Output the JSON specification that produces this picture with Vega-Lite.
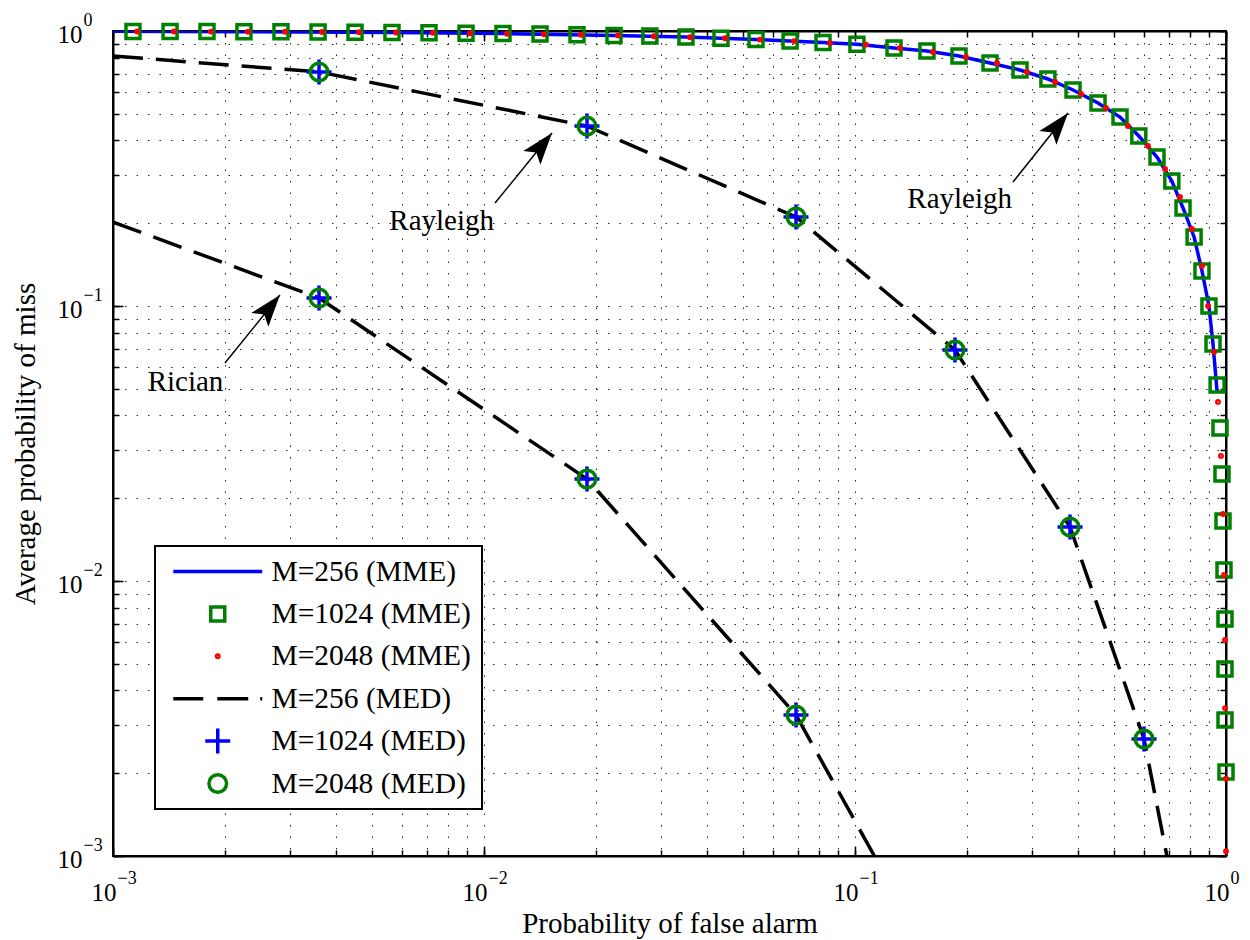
{
  "$schema": "https://vega.github.io/schema/vega-lite/v6.json",
  "width": 1113,
  "height": 825,
  "autosize": {"type": "none"},
  "padding": {"left": 113, "top": 31, "right": 24, "bottom": 84},
  "background": "white",
  "config": {
    "font": "Liberation Serif",
    "view": {"stroke": "black", "strokeWidth": 2},
    "legend": {"strokeWidth": 2}
  },
  "datasets": {
    "mme_line": [
      {"pf": 0.001, "pm": 0.998}, {"pf": 0.002254, "pm": 0.994}, {"pf": 0.005649, "pm": 0.9875},
      {"pf": 0.01125, "pm": 0.9785}, {"pf": 0.02241, "pm": 0.9638}, {"pf": 0.035, "pm": 0.9502},
      {"pf": 0.0541, "pm": 0.9313}, {"pf": 0.08199, "pm": 0.9074}, {"pf": 0.1012, "pm": 0.8946},
      {"pf": 0.1274, "pm": 0.8671}, {"pf": 0.1563, "pm": 0.8458}, {"pf": 0.1907, "pm": 0.8112},
      {"pf": 0.2312, "pm": 0.7651}, {"pf": 0.2785, "pm": 0.7212}, {"pf": 0.3311, "pm": 0.669},
      {"pf": 0.387, "pm": 0.6101}, {"pf": 0.4519, "pm": 0.5473}, {"pf": 0.518, "pm": 0.4866},
      {"pf": 0.5821, "pm": 0.4151}, {"pf": 0.6516, "pm": 0.3481}, {"pf": 0.7145, "pm": 0.2848},
      {"pf": 0.7659, "pm": 0.2272}, {"pf": 0.8204, "pm": 0.1782}, {"pf": 0.8615, "pm": 0.1341},
      {"pf": 0.8995, "pm": 0.1}, {"pf": 0.9226, "pm": 0.0727}, {"pf": 0.9463, "pm": 0.0487}
    ],
    "med_line": [
      {"curve": "Rayleigh", "pf": 0.001, "pm": 0.811},
      {"curve": "Rayleigh", "pf": 0.003592, "pm": 0.7096},
      {"curve": "Rayleigh", "pf": 0.01895, "pm": 0.451},
      {"curve": "Rayleigh", "pf": 0.06934, "pm": 0.2107},
      {"curve": "Rayleigh", "pf": 0.186, "pm": 0.06918},
      {"curve": "Rayleigh", "pf": 0.3798, "pm": 0.01572},
      {"curve": "Rayleigh", "pf": 0.6012, "pm": 0.002664},
      {"curve": "Rayleigh", "pf": 0.693, "pm": 0.001},
      {"curve": "Rician", "pf": 0.001, "pm": 0.202},
      {"curve": "Rician", "pf": 0.003592, "pm": 0.1069},
      {"curve": "Rician", "pf": 0.01895, "pm": 0.02349},
      {"curve": "Rician", "pf": 0.06934, "pm": 0.003256},
      {"curve": "Rician", "pf": 0.1128, "pm": 0.001}
    ],
    "points": [
      {"series": "M=1024 (MME)", "pf": 0.001132, "pm": 0.9958},
      {"series": "M=1024 (MME)", "pf": 0.001425, "pm": 0.9958},
      {"series": "M=1024 (MME)", "pf": 0.001792, "pm": 0.995},
      {"series": "M=1024 (MME)", "pf": 0.002254, "pm": 0.9941},
      {"series": "M=1024 (MME)", "pf": 0.002836, "pm": 0.9933},
      {"series": "M=1024 (MME)", "pf": 0.00357, "pm": 0.9917},
      {"series": "M=1024 (MME)", "pf": 0.004491, "pm": 0.99},
      {"series": "M=1024 (MME)", "pf": 0.005649, "pm": 0.9875},
      {"series": "M=1024 (MME)", "pf": 0.007109, "pm": 0.985},
      {"series": "M=1024 (MME)", "pf": 0.008944, "pm": 0.9817},
      {"series": "M=1024 (MME)", "pf": 0.01125, "pm": 0.9785},
      {"series": "M=1024 (MME)", "pf": 0.01416, "pm": 0.9744},
      {"series": "M=1024 (MME)", "pf": 0.01781, "pm": 0.9695},
      {"series": "M=1024 (MME)", "pf": 0.02241, "pm": 0.9638},
      {"series": "M=1024 (MME)", "pf": 0.028, "pm": 0.9583},
      {"series": "M=1024 (MME)", "pf": 0.03503, "pm": 0.9502},
      {"series": "M=1024 (MME)", "pf": 0.04353, "pm": 0.9414},
      {"series": "M=1024 (MME)", "pf": 0.0541, "pm": 0.9313},
      {"series": "M=1024 (MME)", "pf": 0.06683, "pm": 0.9197},
      {"series": "M=1024 (MME)", "pf": 0.08199, "pm": 0.9074},
      {"series": "M=1024 (MME)", "pf": 0.1012, "pm": 0.8946},
      {"series": "M=1024 (MME)", "pf": 0.1274, "pm": 0.8671},
      {"series": "M=1024 (MME)", "pf": 0.1563, "pm": 0.8458},
      {"series": "M=1024 (MME)", "pf": 0.1907, "pm": 0.8112},
      {"series": "M=1024 (MME)", "pf": 0.2312, "pm": 0.7651},
      {"series": "M=1024 (MME)", "pf": 0.2785, "pm": 0.7212},
      {"series": "M=1024 (MME)", "pf": 0.3311, "pm": 0.669},
      {"series": "M=1024 (MME)", "pf": 0.387, "pm": 0.6101},
      {"series": "M=1024 (MME)", "pf": 0.4519, "pm": 0.5473},
      {"series": "M=1024 (MME)", "pf": 0.518, "pm": 0.4866},
      {"series": "M=1024 (MME)", "pf": 0.5821, "pm": 0.4151},
      {"series": "M=1024 (MME)", "pf": 0.6516, "pm": 0.3481},
      {"series": "M=1024 (MME)", "pf": 0.7145, "pm": 0.2848},
      {"series": "M=1024 (MME)", "pf": 0.7659, "pm": 0.2272},
      {"series": "M=1024 (MME)", "pf": 0.8204, "pm": 0.1782},
      {"series": "M=1024 (MME)", "pf": 0.8615, "pm": 0.1341},
      {"series": "M=1024 (MME)", "pf": 0.8995, "pm": 0.1},
      {"series": "M=1024 (MME)", "pf": 0.9226, "pm": 0.0727},
      {"series": "M=1024 (MME)", "pf": 0.9463, "pm": 0.0516},
      {"series": "M=1024 (MME)", "pf": 0.9634, "pm": 0.036},
      {"series": "M=1024 (MME)", "pf": 0.9754, "pm": 0.0245},
      {"series": "M=1024 (MME)", "pf": 0.9815, "pm": 0.01653},
      {"series": "M=1024 (MME)", "pf": 0.9876, "pm": 0.01096},
      {"series": "M=1024 (MME)", "pf": 0.9938, "pm": 0.00727},
      {"series": "M=1024 (MME)", "pf": 0.9938, "pm": 0.00479},
      {"series": "M=1024 (MME)", "pf": 0.9938, "pm": 0.00312},
      {"series": "M=1024 (MME)", "pf": 1.0, "pm": 0.00202},
      {"series": "M=2048 (MME)", "pf": 0.001161, "pm": 0.9958},
      {"series": "M=2048 (MME)", "pf": 0.00146, "pm": 0.9958},
      {"series": "M=2048 (MME)", "pf": 0.001837, "pm": 0.995},
      {"series": "M=2048 (MME)", "pf": 0.002311, "pm": 0.9941},
      {"series": "M=2048 (MME)", "pf": 0.002908, "pm": 0.9933},
      {"series": "M=2048 (MME)", "pf": 0.003659, "pm": 0.9917},
      {"series": "M=2048 (MME)", "pf": 0.004603, "pm": 0.99},
      {"series": "M=2048 (MME)", "pf": 0.005791, "pm": 0.9875},
      {"series": "M=2048 (MME)", "pf": 0.007286, "pm": 0.985},
      {"series": "M=2048 (MME)", "pf": 0.009169, "pm": 0.9817},
      {"series": "M=2048 (MME)", "pf": 0.01153, "pm": 0.9776},
      {"series": "M=2048 (MME)", "pf": 0.01451, "pm": 0.9736},
      {"series": "M=2048 (MME)", "pf": 0.01826, "pm": 0.9687},
      {"series": "M=2048 (MME)", "pf": 0.02297, "pm": 0.963},
      {"series": "M=2048 (MME)", "pf": 0.02872, "pm": 0.9574},
      {"series": "M=2048 (MME)", "pf": 0.03592, "pm": 0.9494},
      {"series": "M=2048 (MME)", "pf": 0.04462, "pm": 0.9407},
      {"series": "M=2048 (MME)", "pf": 0.05544, "pm": 0.9306},
      {"series": "M=2048 (MME)", "pf": 0.06848, "pm": 0.9189},
      {"series": "M=2048 (MME)", "pf": 0.08564, "pm": 0.9045},
      {"series": "M=2048 (MME)", "pf": 0.1071, "pm": 0.8924},
      {"series": "M=2048 (MME)", "pf": 0.1322, "pm": 0.8671},
      {"series": "M=2048 (MME)", "pf": 0.1623, "pm": 0.8388},
      {"series": "M=2048 (MME)", "pf": 0.1991, "pm": 0.8042},
      {"series": "M=2048 (MME)", "pf": 0.2414, "pm": 0.7651},
      {"series": "M=2048 (MME)", "pf": 0.2908, "pm": 0.7094},
      {"series": "M=2048 (MME)", "pf": 0.346, "pm": 0.6526},
      {"series": "M=2048 (MME)", "pf": 0.4067, "pm": 0.5901},
      {"series": "M=2048 (MME)", "pf": 0.4748, "pm": 0.5248},
      {"series": "M=2048 (MME)", "pf": 0.5441, "pm": 0.4514},
      {"series": "M=2048 (MME)", "pf": 0.6164, "pm": 0.3818},
      {"series": "M=2048 (MME)", "pf": 0.685, "pm": 0.3149},
      {"series": "M=2048 (MME)", "pf": 0.7516, "pm": 0.249},
      {"series": "M=2048 (MME)", "pf": 0.8099, "pm": 0.1905},
      {"series": "M=2048 (MME)", "pf": 0.8615, "pm": 0.1398},
      {"series": "M=2048 (MME)", "pf": 0.8946, "pm": 0.1},
      {"series": "M=2048 (MME)", "pf": 0.9284, "pm": 0.068},
      {"series": "M=2048 (MME)", "pf": 0.9515, "pm": 0.0448},
      {"series": "M=2048 (MME)", "pf": 0.9694, "pm": 0.0285},
      {"series": "M=2048 (MME)", "pf": 0.9815, "pm": 0.01752},
      {"series": "M=2048 (MME)", "pf": 0.9876, "pm": 0.01051},
      {"series": "M=2048 (MME)", "pf": 0.9938, "pm": 0.0061},
      {"series": "M=2048 (MME)", "pf": 0.9938, "pm": 0.00345},
      {"series": "M=2048 (MME)", "pf": 1.0, "pm": 0.00191},
      {"series": "M=2048 (MME)", "pf": 1.0, "pm": 0.00104},
      {"series": "M=1024 (MED)", "pf": 0.003592, "pm": 0.7096},
      {"series": "M=1024 (MED)", "pf": 0.01895, "pm": 0.451},
      {"series": "M=1024 (MED)", "pf": 0.06934, "pm": 0.2107},
      {"series": "M=1024 (MED)", "pf": 0.186, "pm": 0.06918},
      {"series": "M=1024 (MED)", "pf": 0.3798, "pm": 0.01572},
      {"series": "M=1024 (MED)", "pf": 0.6012, "pm": 0.002664},
      {"series": "M=1024 (MED)", "pf": 0.003592, "pm": 0.1069},
      {"series": "M=1024 (MED)", "pf": 0.01895, "pm": 0.02349},
      {"series": "M=1024 (MED)", "pf": 0.06934, "pm": 0.003256},
      {"series": "M=2048 (MED)", "pf": 0.003592, "pm": 0.7096},
      {"series": "M=2048 (MED)", "pf": 0.01895, "pm": 0.451},
      {"series": "M=2048 (MED)", "pf": 0.06934, "pm": 0.2107},
      {"series": "M=2048 (MED)", "pf": 0.186, "pm": 0.06918},
      {"series": "M=2048 (MED)", "pf": 0.3798, "pm": 0.01572},
      {"series": "M=2048 (MED)", "pf": 0.6012, "pm": 0.002664},
      {"series": "M=2048 (MED)", "pf": 0.003592, "pm": 0.1069},
      {"series": "M=2048 (MED)", "pf": 0.01895, "pm": 0.02349},
      {"series": "M=2048 (MED)", "pf": 0.06934, "pm": 0.003256}
    ],
    "arrows": [
      {"pf1": 0.01071, "pm1": 0.2368, "pf2": 0.01525, "pm2": 0.4257},
      {"pf1": 0.2667, "pm1": 0.2824, "pf2": 0.3751, "pm2": 0.5033},
      {"pf1": 0.002003, "pm1": 0.06204, "pf2": 0.002818, "pm2": 0.1096}
    ],
    "notes": [
      {"pf": 0.00769, "pm": 0.1889, "text": "Rayleigh"},
      {"pf": 0.1915, "pm": 0.2265, "text": "Rayleigh"},
      {"pf": 0.001568, "pm": 0.04918, "text": "Rician"}
    ]
  },
  "layer": [
    {
      "data": {"name": "mme_line"},
      "mark": {"type": "line", "color": "#0000ff", "strokeWidth": 3.5, "clip": true},
      "encoding": {
        "x": {
          "field": "pf", "type": "quantitative",
          "scale": {"type": "log", "domain": [0.001, 1], "nice": false},
          "axis": {
            "orient": "bottom",
            "values": [0.001,0.002,0.003,0.004,0.005,0.006,0.007,0.008,0.009,0.01,0.02,0.03,0.04,0.05,0.06,0.07,0.08,0.09,0.1,0.2,0.3,0.4,0.5,0.6,0.7,0.8,0.9,1],
            "labels": false,
            "grid": true, "gridDash": [1.5, 10], "gridColor": "#000", "gridOpacity": 0.85, "gridWidth": 1,
            "ticks": true, "tickSize": -6, "tickColor": "#000", "tickWidth": 1.5,
            "domain": true, "domainColor": "#000", "domainWidth": 2,
            "title": "Probability of false alarm",
            "titleFont": "Liberation Serif", "titleFontSize": 29, "titleFontWeight": "normal", "titleColor": "#000",
            "titleY": 76, "titleBaseline": "alphabetic"
          }
        },
        "y": {
          "field": "pm", "type": "quantitative",
          "scale": {"type": "log", "domain": [0.001, 1], "nice": false},
          "axis": {
            "orient": "left",
            "values": [0.001,0.002,0.003,0.004,0.005,0.006,0.007,0.008,0.009,0.01,0.02,0.03,0.04,0.05,0.06,0.07,0.08,0.09,0.1,0.2,0.3,0.4,0.5,0.6,0.7,0.8,0.9,1],
            "labels": false,
            "grid": true, "gridDash": [1.5, 10], "gridColor": "#000", "gridOpacity": 0.85, "gridWidth": 1,
            "ticks": true, "tickSize": -6, "tickColor": "#000", "tickWidth": 1.5,
            "domain": true, "domainColor": "#000", "domainWidth": 2,
            "title": "Average probability of miss",
            "titleFont": "Liberation Serif", "titleFontSize": 29, "titleFontWeight": "normal", "titleColor": "#000",
            "titleX": -79, "titleBaseline": "alphabetic"
          }
        }
      }
    },
    {
      "data": {"name": "med_line"},
      "mark": {"type": "line", "color": "#000", "strokeWidth": 3.5, "strokeDash": [30, 13], "clip": true},
      "encoding": {
        "x": {
          "field": "pf", "type": "quantitative",
          "scale": {"type": "log", "domain": [0.001, 1], "nice": false},
          "axis": {
            "orient": "top",
            "values": [0.001,0.002,0.003,0.004,0.005,0.006,0.007,0.008,0.009,0.01,0.02,0.03,0.04,0.05,0.06,0.07,0.08,0.09,0.1,0.2,0.3,0.4,0.5,0.6,0.7,0.8,0.9,1],
            "labels": false, "grid": false, "title": null,
            "ticks": true, "tickSize": -6, "tickColor": "#000", "tickWidth": 1.5,
            "domain": true, "domainColor": "#000", "domainWidth": 2
          }
        },
        "y": {
          "field": "pm", "type": "quantitative",
          "scale": {"type": "log", "domain": [0.001, 1], "nice": false},
          "axis": {
            "orient": "right",
            "values": [0.001,0.002,0.003,0.004,0.005,0.006,0.007,0.008,0.009,0.01,0.02,0.03,0.04,0.05,0.06,0.07,0.08,0.09,0.1,0.2,0.3,0.4,0.5,0.6,0.7,0.8,0.9,1],
            "labels": false, "grid": false, "title": null,
            "ticks": true, "tickSize": -6, "tickColor": "#000", "tickWidth": 1.5,
            "domain": true, "domainColor": "#000", "domainWidth": 2
          }
        },
        "detail": {"field": "curve", "type": "nominal"}
      }
    },
    {
      "data": {"name": "arrows"},
      "mark": {"type": "rule", "color": "#000", "strokeWidth": 1.5},
      "encoding": {
        "x": {
          "field": "pf1", "type": "quantitative",
          "scale": {"type": "log", "domain": [0.001, 1], "nice": false},
          "axis": {
            "orient": "bottom", "values": [0.001, 0.01, 0.1, 1],
            "labelExpr": "'10'",
            "labelFont": "Liberation Serif", "labelFontSize": 25, "labelColor": "#000",
            "labelAlign": "right", "labelBaseline": "alphabetic", "labelPadding": 44, "labelOffset": 3,
            "labelOverlap": false, "labelFlush": false,
            "ticks": false, "domain": false, "grid": false, "title": null
          }
        },
        "y": {
          "field": "pm1", "type": "quantitative",
          "scale": {"type": "log", "domain": [0.001, 1], "nice": false},
          "axis": {
            "orient": "left", "values": [0.001, 0.01, 0.1, 1],
            "labelExpr": "'10'",
            "labelFont": "Liberation Serif", "labelFontSize": 25, "labelColor": "#000",
            "labelAlign": "right", "labelBaseline": "alphabetic", "labelPadding": 31, "labelOffset": 11,
            "labelOverlap": false, "labelFlush": false,
            "ticks": false, "domain": false, "grid": false, "title": null
          }
        },
        "x2": {"field": "pf2"},
        "y2": {"field": "pm2"}
      }
    },
    {
      "data": {"name": "arrows"},
      "mark": {"type": "point", "shape": "M0,0L1.1,3.2L0,2.5L-1.1,3.2Z", "size": 400, "angle": 39, "filled": true, "color": "#000", "opacity": 1, "strokeWidth": 0},
      "encoding": {
        "x": {
          "field": "pf2", "type": "quantitative",
          "scale": {"type": "log", "domain": [0.001, 1], "nice": false},
          "axis": {
            "orient": "bottom", "values": [0.001, 0.01, 0.1, 1],
            "labelExpr": "datum.value == 1 ? '0' : datum.value == 0.1 ? '−1' : datum.value == 0.01 ? '−2' : '−3'",
            "labelFont": "Liberation Serif", "labelFontSize": 18, "labelColor": "#000",
            "labelAlign": "left", "labelBaseline": "alphabetic", "labelPadding": 27, "labelOffset": 4,
            "labelOverlap": false, "labelFlush": false,
            "ticks": false, "domain": false, "grid": false, "title": null
          }
        },
        "y": {
          "field": "pm2", "type": "quantitative",
          "scale": {"type": "log", "domain": [0.001, 1], "nice": false},
          "axis": {
            "orient": "left", "values": [0.001, 0.01, 0.1, 1],
            "labelExpr": "datum.value == 1 ? '0' : datum.value == 0.1 ? '−1' : datum.value == 0.01 ? '−2' : '−3'",
            "labelFont": "Liberation Serif", "labelFontSize": 18, "labelColor": "#000",
            "labelAlign": "left", "labelBaseline": "alphabetic", "labelPadding": 30, "labelOffset": -6,
            "labelOverlap": false, "labelFlush": false,
            "ticks": false, "domain": false, "grid": false, "title": null
          }
        }
      }
    },
    {
      "data": {"name": "notes"},
      "mark": {"type": "text", "font": "Liberation Serif", "fontSize": 29, "color": "#000", "align": "center", "baseline": "alphabetic"},
      "encoding": {
        "x": {
          "field": "pf", "type": "quantitative",
          "scale": {"type": "log", "domain": [0.001, 1], "nice": false},
          "axis": {
            "orient": "bottom", "values": [0.001, 0.01, 0.1, 1],
            "labels": false, "grid": false, "domain": false, "title": null,
            "ticks": true, "tickSize": -10, "tickColor": "#000", "tickWidth": 1.5
          }
        },
        "y": {
          "field": "pm", "type": "quantitative",
          "scale": {"type": "log", "domain": [0.001, 1], "nice": false},
          "axis": {
            "orient": "left", "values": [0.001, 0.01, 0.1, 1],
            "labels": false, "grid": false, "domain": false, "title": null,
            "ticks": true, "tickSize": -10, "tickColor": "#000", "tickWidth": 1.5
          }
        },
        "text": {"field": "text"}
      }
    },
    {
      "data": {"name": "points"},
      "mark": {"type": "point", "filled": false, "strokeWidth": 3.5, "size": 400, "opacity": 1},
      "encoding": {
        "x": {
          "field": "pf", "type": "quantitative",
          "scale": {"type": "log", "domain": [0.001, 1], "nice": false},
          "axis": {
            "orient": "top", "values": [0.001, 0.01, 0.1, 1],
            "labels": false, "grid": false, "domain": false, "title": null,
            "ticks": true, "tickSize": -10, "tickColor": "#000", "tickWidth": 1.5
          }
        },
        "y": {
          "field": "pm", "type": "quantitative",
          "scale": {"type": "log", "domain": [0.001, 1], "nice": false},
          "axis": {
            "orient": "right", "values": [0.001, 0.01, 0.1, 1],
            "labels": false, "grid": false, "domain": false, "title": null,
            "ticks": true, "tickSize": -10, "tickColor": "#000", "tickWidth": 1.5
          }
        },
        "shape": {
          "field": "series", "type": "nominal",
          "scale": {
            "domain": ["M=256 (MME)", "M=1024 (MME)", "M=2048 (MME)", "M=256 (MED)", "M=1024 (MED)", "M=2048 (MED)"],
            "range": [
              "M-4.45,0L4.45,0",
              "M-0.7,-0.7L0.7,-0.7L0.7,0.7L-0.7,0.7Z",
              "M-0.12,0A0.12,0.12,0,1,0,0.12,0A0.12,0.12,0,1,0,-0.12,0Z",
              "M-4.45,0L-1.45,0M-0.05,0L3.05,0M4.25,0L4.45,0",
              "M-1.25,0L1.25,0M0,-1.25L0,1.25",
              "M-0.88,0A0.88,0.88,0,1,0,0.88,0A0.88,0.88,0,1,0,-0.88,0Z"
            ]
          },
          "legend": {
            "orient": "none", "legendX": 42, "legendY": 515, "title": null,
            "labelFont": "Liberation Serif", "labelFontSize": 29.5, "labelColor": "#000", "labelLimit": 0,
            "padding": 11, "symbolOffset": 37, "labelOffset": 39, "rowPadding": 12.4, "clipHeight": 29,
            "symbolSize": 400, "symbolStrokeWidth": 3.5, "symbolFillColor": "transparent", "symbolOpacity": 1,
            "strokeColor": "#000", "fillColor": "#fff"
          }
        },
        "stroke": {
          "field": "series", "type": "nominal",
          "scale": {
            "domain": ["M=256 (MME)", "M=1024 (MME)", "M=2048 (MME)", "M=256 (MED)", "M=1024 (MED)", "M=2048 (MED)"],
            "range": ["#0000ff", "#008000", "#ff0000", "#000000", "#0000ff", "#008000"]
          },
          "legend": {
            "orient": "none", "legendX": 42, "legendY": 515, "title": null,
            "labelFont": "Liberation Serif", "labelFontSize": 29.5, "labelColor": "#000", "labelLimit": 0,
            "padding": 11, "symbolOffset": 37, "labelOffset": 39, "rowPadding": 12.4, "clipHeight": 29,
            "symbolSize": 400, "symbolStrokeWidth": 3.5, "symbolFillColor": "transparent", "symbolOpacity": 1,
            "strokeColor": "#000", "fillColor": "#fff"
          }
        }
      }
    }
  ],
  "resolve": {"axis": {"x": "independent", "y": "independent"}}
}
